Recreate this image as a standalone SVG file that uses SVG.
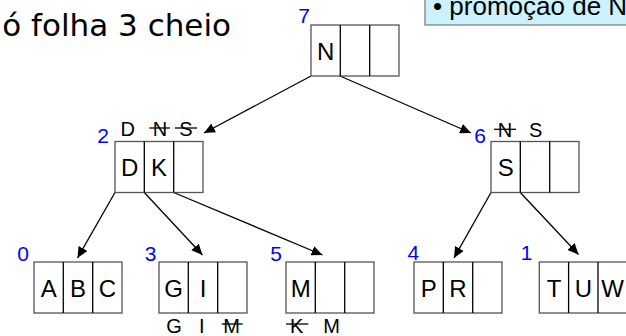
<svg xmlns="http://www.w3.org/2000/svg" width="626" height="336" viewBox="0 0 626 336">
  <defs>
    <marker id="arrow" markerWidth="12" markerHeight="10" refX="11" refY="5" orient="auto" markerUnits="userSpaceOnUse">
      <path d="M0,0 L11,5 L0,10 Z" fill="#000"/>
    </marker>
    <style>
      .box { fill: #fff; stroke: #555; stroke-width: 1.3; }
      .div { stroke: #000; stroke-width: 1.3; }
      .key { font-family: "Liberation Sans", Arial, sans-serif; font-size: 24px; fill: #000; text-anchor: middle; }
      .ann { font-family: "Liberation Sans", Arial, sans-serif; font-size: 20px; fill: #000; text-anchor: middle; }
      .num { font-family: "Liberation Sans", Arial, sans-serif; font-size: 21px; fill: #0000ff; text-anchor: middle; }
      .strike { stroke: #000; stroke-width: 1.3; }
      .edge { stroke: #000; stroke-width: 1.3; fill: none; marker-end: url(#arrow); }
    </style>
  </defs>

  <!-- page title -->
  <text x="231" y="36" font-family="'DejaVu Sans', Tahoma, sans-serif" font-size="31" text-anchor="end" fill="#000">ó folha 3 cheio</text>

  <!-- note box -->
  <g id="note">
    <rect x="425" y="-5" width="210" height="30" fill="#ccf2ff" stroke="#777" stroke-width="1.2"/>
    <text x="433" y="15" font-family="'Liberation Sans', Arial, sans-serif" font-size="26" fill="#000">• promoção de N</text>
  </g>

  <!-- connectors -->
  <g id="edges">
    <line class="edge" x1="311" y1="76" x2="204" y2="133"/>
    <line class="edge" x1="340" y1="76" x2="471" y2="133"/>
    <line class="edge" x1="115" y1="192.5" x2="77.5" y2="258"/>
    <line class="edge" x1="144.3" y1="192.5" x2="202.5" y2="255"/>
    <line class="edge" x1="173.7" y1="192.5" x2="322.5" y2="255"/>
    <line class="edge" x1="491" y1="192.5" x2="454" y2="258"/>
    <line class="edge" x1="520.3" y1="192.5" x2="578.5" y2="254.5"/>
  </g>

  <!-- page 7 (root) -->
  <g id="node7">
    <rect class="box" x="311" y="25" width="88" height="51"/>
    <line class="div" x1="340.3" y1="25" x2="340.3" y2="76"/>
    <line class="div" x1="369.7" y1="25" x2="369.7" y2="76"/>
    <text class="key" x="325.7" y="59.5">N</text>
    <text class="num" x="304" y="23">7</text>
  </g>

  <!-- page 2 -->
  <g id="node2">
    <rect class="box" x="115" y="141.5" width="88" height="51"/>
    <line class="div" x1="144.3" y1="141.5" x2="144.3" y2="192.5"/>
    <line class="div" x1="173.7" y1="141.5" x2="173.7" y2="192.5"/>
    <text class="key" x="129.7" y="176">D</text>
    <text class="key" x="159" y="176">K</text>
    <text class="num" x="103" y="143">2</text>
    <text class="ann" x="127.7" y="136">D</text>
    <text class="ann" x="160" y="136">N</text>
    <line class="strike" x1="149.3" y1="128" x2="170" y2="128"/>
    <text class="ann" x="186" y="136">S</text>
    <line class="strike" x1="175" y1="128" x2="197" y2="128"/>
  </g>

  <!-- page 6 -->
  <g id="node6">
    <rect class="box" x="491" y="141.5" width="88" height="51"/>
    <line class="div" x1="520.3" y1="141.5" x2="520.3" y2="192.5"/>
    <line class="div" x1="549.7" y1="141.5" x2="549.7" y2="192.5"/>
    <text class="key" x="505.7" y="176">S</text>
    <text class="num" x="480" y="143">6</text>
    <text class="ann" x="505" y="137">N</text>
    <line class="strike" x1="494" y1="129.3" x2="516" y2="129.3"/>
    <text class="ann" x="535.7" y="137">S</text>
  </g>

  <!-- page 0 -->
  <g id="node0">
    <rect class="box" x="34" y="262" width="88" height="51"/>
    <line class="div" x1="63.3" y1="262" x2="63.3" y2="313"/>
    <line class="div" x1="92.7" y1="262" x2="92.7" y2="313"/>
    <text class="key" x="48.7" y="296.5">A</text>
    <text class="key" x="78" y="296.5">B</text>
    <text class="key" x="107.3" y="296.5">C</text>
    <text class="num" x="23" y="261">0</text>
  </g>

  <!-- page 3 -->
  <g id="node3">
    <rect class="box" x="159" y="262" width="88" height="51"/>
    <line class="div" x1="188.3" y1="262" x2="188.3" y2="313"/>
    <line class="div" x1="217.7" y1="262" x2="217.7" y2="313"/>
    <text class="key" x="173.7" y="296.5">G</text>
    <text class="key" x="203" y="296.5">I</text>
    <text class="num" x="150.7" y="261">3</text>
    <text class="ann" x="174" y="332.5">G</text>
    <text class="ann" x="201.7" y="332.5">I</text>
    <text class="ann" x="231.7" y="332.5">M</text>
    <line class="strike" x1="221.7" y1="324" x2="242.7" y2="324"/>
  </g>

  <!-- page 5 -->
  <g id="node5">
    <rect class="box" x="286" y="262" width="88" height="51"/>
    <line class="div" x1="315.3" y1="262" x2="315.3" y2="313"/>
    <line class="div" x1="344.7" y1="262" x2="344.7" y2="313"/>
    <text class="key" x="300.7" y="296.5">M</text>
    <text class="num" x="276" y="261">5</text>
    <text class="ann" x="296.7" y="332.5">K</text>
    <line class="strike" x1="286" y1="324" x2="308.3" y2="324"/>
    <text class="ann" x="331.7" y="332.5">M</text>
  </g>

  <!-- page 4 -->
  <g id="node4">
    <rect class="box" x="414" y="262" width="88" height="51"/>
    <line class="div" x1="443.3" y1="262" x2="443.3" y2="313"/>
    <line class="div" x1="472.7" y1="262" x2="472.7" y2="313"/>
    <text class="key" x="428.7" y="296.5">P</text>
    <text class="key" x="458" y="296.5">R</text>
    <text class="num" x="413.3" y="260">4</text>
  </g>

  <!-- page 1 -->
  <g id="node1">
    <rect class="box" x="539.3" y="262" width="88" height="51"/>
    <line class="div" x1="568.6" y1="262" x2="568.6" y2="313"/>
    <line class="div" x1="598" y1="262" x2="598" y2="313"/>
    <text class="key" x="554" y="296.5">T</text>
    <text class="key" x="583.3" y="296.5">U</text>
    <text class="key" x="612.6" y="296.5">W</text>
    <text class="num" x="526.7" y="260">1</text>
  </g>
</svg>
